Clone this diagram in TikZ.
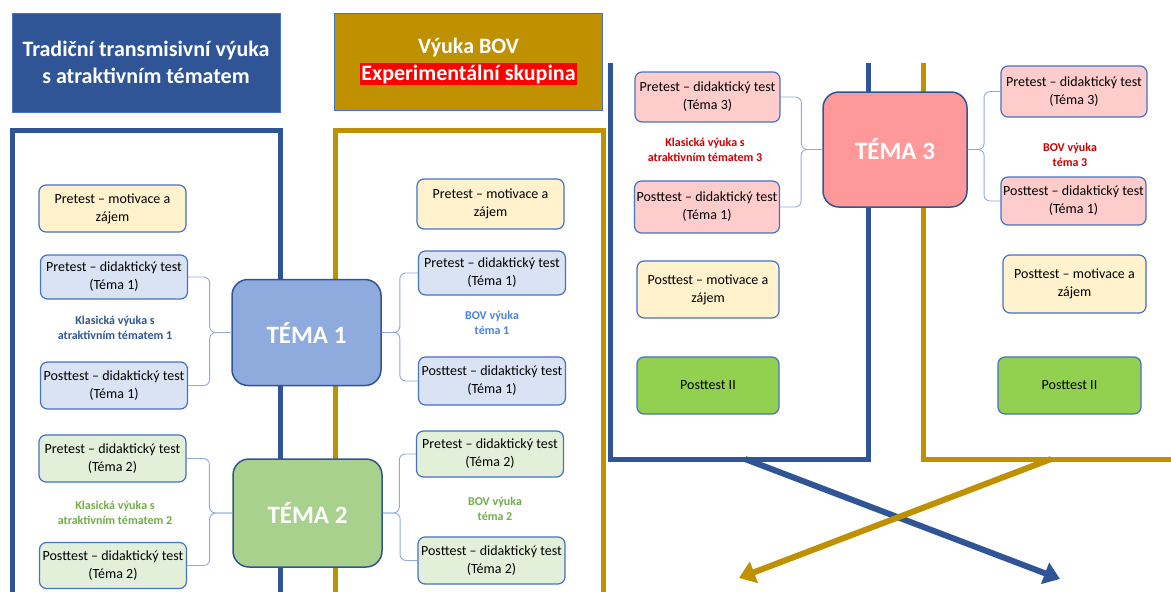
\documentclass[tikz,border=0pt]{standalone}
\usepackage{fontspec}
\setmainfont{Carlito}
\usetikzlibrary{arrows.meta,calc}

\definecolor{frameblue}{RGB}{47,85,151}
\definecolor{gold}{RGB}{191,144,0}
\definecolor{boxblue}{RGB}{68,114,196}
\definecolor{braceblue}{RGB}{143,170,220}
\definecolor{lyellow}{RGB}{255,242,204}
\definecolor{lblue}{RGB}{218,227,243}
\definecolor{lgreen}{RGB}{226,240,217}
\definecolor{lred}{RGB}{255,204,204}
\definecolor{temablue}{RGB}{143,170,220}
\definecolor{temagreen}{RGB}{169,209,142}
\definecolor{temared}{RGB}{255,153,153}
\definecolor{ptgreen}{RGB}{146,208,80}
\definecolor{txtblue}{RGB}{47,85,151}
\definecolor{txtlblue}{RGB}{75,130,210}
\definecolor{txtgreen}{RGB}{112,173,71}
\definecolor{txtred}{RGB}{204,0,0}
\setlength{\fboxsep}{1.5pt}

\begin{document}
\begin{tikzpicture}[
  x=1pt, y=-1pt,
  every node/.style={font=\fontsize{14}{18}\selectfont},
  titlebox/.style={draw=boxblue, line width=0.8pt, minimum width=268, minimum height=99,
    text=white, align=center, font=\fontsize{22}{27}\selectfont\bfseries},
  box/.style={draw=boxblue, line width=1.2pt, rounded corners=7pt, minimum width=147,
    minimum height=47, align=center, inner sep=1pt},
  motbox/.style={box, fill=lyellow},
  tema/.style={draw=frameblue, line width=1.5pt, rounded corners=16pt, minimum width=149,
    minimum height=106, text=white, font=\fontsize{25}{30}\selectfont\bfseries},
  grouplabel/.style={font=\fontsize{12}{14.5}\selectfont\bfseries, align=center},
  brace/.style={draw=braceblue, line width=0.9pt, rounded corners=6pt},
  framebl/.style={line width=5pt},
  arrow/.style={line width=6pt, -{Triangle[length=16pt,width=22pt]}},
  ]
\useasboundingbox (0,0) rectangle (1171,592);

% Frames
\draw[framebl, frameblue] (12,600) -- (12,130) -- (280,130) -- (280,600);
\draw[framebl, gold] (335,600) -- (335,130) -- (603,130) -- (603,600);
\draw[framebl, frameblue] (610,63) -- (610,459) -- (868,459) -- (868,63);
\draw[framebl, gold] (923,63) -- (923,459) -- (1180,459);

% Titles
\node[titlebox, fill=frameblue] (titleL) at (146,62.5) {Tradiční transmisivní výuka\\s atraktivním tématem};
\node[titlebox, fill=gold, minimum height=97] (titleR) at (468.5,61.5) {Výuka BOV\\\colorbox{red}{Experimentální skupina}};

% Nodes - tema 1
\node[motbox] (motL) at (112.5,208.5) {Pretest -- motivace a\\zájem};
\node[box, fill=lblue, minimum height=44] (pre1L) at (114,277) {Pretest -- didaktický test\\(Téma 1)};
\node[grouplabel, text=txtblue] (klas1) at (115,328) {Klasická výuka s\\atraktivním tématem 1};
\node[box, fill=lblue] (post1L) at (114,385.5) {Posttest -- didaktický test\\(Téma 1)};
\node[tema, fill=temablue] (tema1) at (306.5,332.5) {TÉMA 1};
\node[motbox, minimum height=50] (motR) at (490.5,204) {Pretest -- motivace a\\zájem};
\node[box, fill=lblue, minimum height=44] (pre1R) at (492,273) {Pretest -- didaktický test\\(Téma 1)};
\node[grouplabel, text=txtlblue] (bov1) at (492,323) {BOV výuka\\téma 1};
\node[box, fill=lblue, minimum height=48] (post1R) at (492,381) {Posttest -- didaktický test\\(Téma 1)};

% Nodes - tema 2
\node[box, fill=lgreen] (pre2L) at (112.5,458.5) {Pretest -- didaktický test\\(Téma 2)};
\node[grouplabel, text=txtgreen] (klas2) at (115,513) {Klasická výuka s\\atraktivním tématem 2};
\node[box, fill=lgreen, minimum height=46] (post2L) at (113,565.5) {Posttest -- didaktický test\\(Téma 2)};
\node[tema, fill=temagreen, minimum height=108] (tema2) at (307.5,513) {TÉMA 2};
\node[box, fill=lgreen, minimum height=46] (pre2R) at (490,454) {Pretest -- didaktický test\\(Téma 2)};
\node[grouplabel, text=txtgreen] (bov2) at (495,509) {BOV výuka\\téma 2};
\node[box, fill=lgreen] (post2R) at (491.5,560.5) {Posttest -- didaktický test\\(Téma 2)};

% Nodes - tema 3
\node[box, fill=lred, minimum width=145, minimum height=50] (pre3L) at (707.5,97) {Pretest -- didaktický test\\(Téma 3)};
\node[grouplabel, text=txtred] (klas3) at (705,150) {Klasická výuka s\\atraktivním tématem 3};
\node[box, fill=lred, minimum width=145, minimum height=52] (post3L) at (707,207) {Posttest -- didaktický test\\(Téma 1)};
\node[tema, fill=temared, minimum width=144, minimum height=115] (tema3) at (895,149.5) {TÉMA 3};
\node[box, fill=lred, minimum width=146, minimum height=51] (pre3R) at (1074,91.5) {Pretest -- didaktický test\\(Téma 3)};
\node[grouplabel, text=txtred] (bov3) at (1070,155) {BOV výuka\\téma 3};
\node[box, fill=lred, minimum width=145, minimum height=48] (post3R) at (1073.5,201) {Posttest -- didaktický test\\(Téma 1)};

% Nodes - final tests
\node[motbox, minimum width=142, minimum height=57] (motPL) at (708,289.5) {Posttest -- motivace a\\zájem};
\node[motbox, minimum width=143, minimum height=58] (motPR) at (1074.5,284) {Posttest -- motivace a\\zájem};
\node[box, fill=ptgreen, minimum width=142, minimum height=57] (ptIIL) at (708,385.5) {Posttest II};
\node[box, fill=ptgreen, minimum width=143, minimum height=57] (ptIIR) at (1069.5,385.5) {Posttest II};

% Braces
\foreach \a/\t in {pre1L/tema1, post1L/tema1, pre2L/tema2, post2L/tema2, pre3L/tema3, post3L/tema3}
  \draw[brace] (\a.east) -| ($(\a.east |- \t.west)!.5!(\t.west)$) -- (\t.west);
\foreach \a/\t in {pre1R/tema1, post1R/tema1, pre2R/tema2, post2R/tema2, pre3R/tema3, post3R/tema3}
  \draw[brace] (\a.west) -| ($(\a.west |- \t.east)!.5!(\t.east)$) -- (\t.east);

% Arrows
\coordinate (blueS) at (745,459);
\coordinate (blueE) at (1060,579);
\coordinate (goldS) at (1051,459);
\coordinate (goldE) at (739,578);
\draw[arrow, frameblue] (blueS) -- (blueE);
\draw[arrow, gold] (goldS) -- (goldE);

\end{tikzpicture}
\end{document}
